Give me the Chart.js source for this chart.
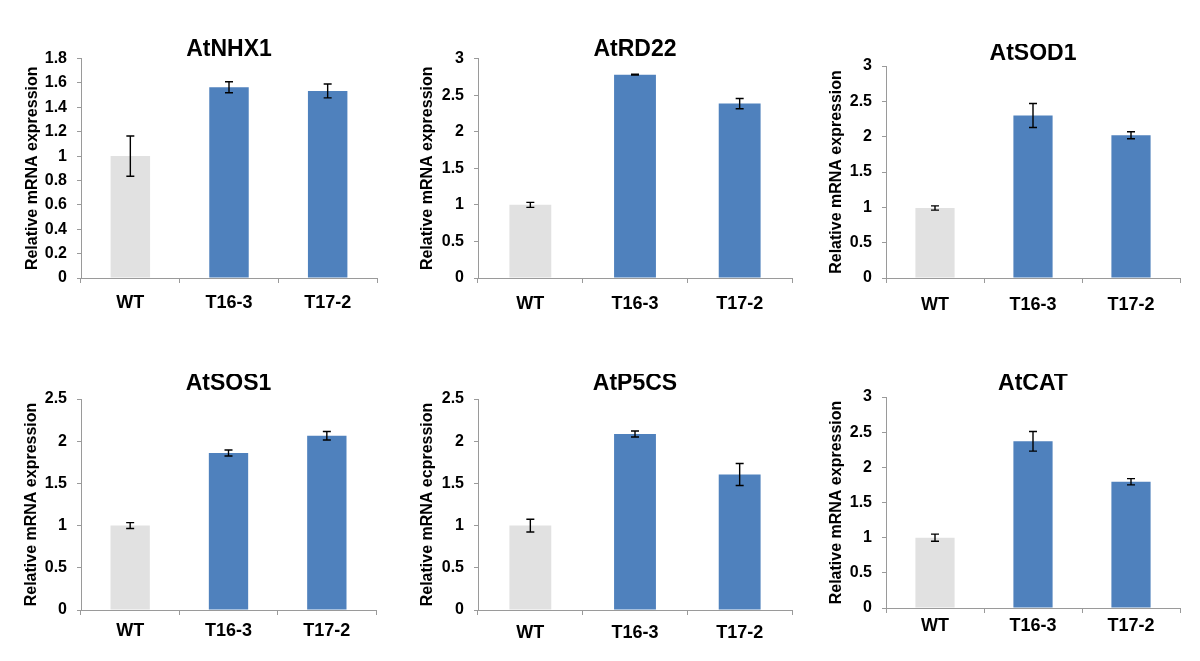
<!DOCTYPE html>
<html>
<head>
<meta charset="utf-8">
<script src="https://cdn.jsdelivr.net/npm/chart.js"></script>
<style>
  html, body { margin: 0; padding: 0; background: #ffffff; }
  body { width: 1200px; height: 661px; position: relative; overflow: hidden; }
  canvas { position: absolute; }
</style>
</head>
<body>
<script>
// ---- Data ----
const categories = ['WT', 'T16-3', 'T17-2'];
const genes = ['AtNHX1', 'AtRD22', 'AtSOD1', 'AtSOS1', 'AtP5CS', 'AtCAT'];
const yTitles = ['Relative mRNA expression', 'Relative mRNA expression', 'Relative mRNA expression',
                 'Relative mRNA expression', 'Relative mRNA ecpression', 'Relative mRNA expression'];

const nhx1 = [1.0, 1.565, 1.535];
const nhx1Err = [0.165, 0.045, 0.057];
const rd22 = [1.0, 2.78, 2.385];
const rd22Err = [0.034, 0.005, 0.07];
const sod1 = [0.99, 2.30, 2.02];
const sod1Err = [0.03, 0.17, 0.05];
const sos1 = [1.0, 1.86, 2.065];
const sos1Err = [0.035, 0.035, 0.05];
const p5cs = [1.0, 2.085, 1.605];
const p5csErr = [0.075, 0.035, 0.13];
const cat = [1.0, 2.37, 1.795];
const catErr = [0.05, 0.14, 0.045];

const yMax = [1.8, 3, 3, 2.5, 2.5, 3];
const yStep = [0.2, 0.5, 0.5, 0.5, 0.5, 0.5];

const values = [nhx1, rd22, sod1, sos1, p5cs, cat];
const errors = [nhx1Err, rd22Err, sod1Err, sos1Err, p5csErr, catErr];

// ---- Layout (pixel positions of each panel) ----
const layouts = [
  { cx: 0,   plot: [81, 377, 56, 278],   tc: 48,    yl: 33,  xl: 303 },
  { cx: 400, plot: [478, 792, 56, 278],  tc: 48,    yl: 428, xl: 304 },
  { cx: 800, plot: [886, 1180, 66, 278], tc: 53,    yl: 837, xl: 305 },
  { cx: 0,   plot: [81, 376, 399, 610],  tc: 383,   yl: 32,  xl: 631 },
  { cx: 400, plot: [478, 792, 399, 610], tc: 383,   yl: 428, xl: 633 },
  { cx: 800, plot: [886, 1180, 397, 608],tc: 383,   yl: 837, xl: 626 }
];

const FONT = "Arial, 'Liberation Sans', Helvetica, sans-serif";
const AXIS = '#9a9a9a';
const BLUE = '#4f81bd';
const GRAY = '#e1e1e1';

const errorBars = {
  id: 'errorBars',
  afterDatasetsDraw(chart) {
    const ctx = chart.ctx;
    const ys = chart.scales.y;
    const meta = chart.getDatasetMeta(0);
    const ds = chart.data.datasets[0];
    ctx.save();
    ctx.strokeStyle = '#000000';
    ctx.lineWidth = 1.4;
    meta.data.forEach((bar, i) => {
      const v = ds.data[i], e = ds.errors[i];
      const yt = ys.getPixelForValue(v + e);
      const yb = ys.getPixelForValue(v - e);
      const x = bar.x;
      ctx.beginPath();
      ctx.moveTo(x, yt); ctx.lineTo(x, yb);
      ctx.moveTo(x - 4, yt); ctx.lineTo(x + 4, yt);
      ctx.moveTo(x - 4, yb); ctx.lineTo(x + 4, yb);
      ctx.stroke();
    });
    ctx.restore();
  }
};

const TITLE_SIZE = 23, TITLE_LH = 0.8;
const XAXIS_H = 42;

layouts.forEach((L, k) => {
  const [pl, pr, pt, pb] = L.plot;
  const titleH = TITLE_SIZE * TITLE_LH;
  const top = Math.round(L.tc - titleH / 2);
  const width = Math.min(pr + 12 - L.cx, 1200 - L.cx);
  const height = pb + XAXIS_H - top;
  const canvas = document.createElement('canvas');
  canvas.width = width; canvas.height = height;
  canvas.style.left = L.cx + 'px';
  canvas.style.top = top + 'px';
  canvas.style.width = width + 'px';
  canvas.style.height = height + 'px';
  document.body.appendChild(canvas);

  const ylabelSize = 16, ylabelLH = 1.2;
  const xtSize = 18, xtLH = 1.2;

  new Chart(canvas, {
    type: 'bar',
    data: {
      labels: categories,
      datasets: [{
        data: values[k],
        errors: errors[k],
        backgroundColor: [GRAY, BLUE, BLUE],
        borderWidth: 0,
        barPercentage: 0.4,
        categoryPercentage: 1.0
      }]
    },
    options: {
      responsive: false,
      animation: false,
      devicePixelRatio: 1,
      layout: { padding: { left: 0, right: width - (pr - L.cx), top: 0, bottom: 0 } },
      plugins: {
        legend: { display: false },
        tooltip: { enabled: false },
        title: {
          display: true,
          text: genes[k],
          color: '#000000',
          fullSize: false,
          font: { family: FONT, size: TITLE_SIZE, weight: 'bold', lineHeight: TITLE_LH },
          padding: { top: 0, bottom: Math.max(0, pt - top - titleH) }
        }
      },
      scales: {
        x: {
          grid: { display: true, drawOnChartArea: false, drawTicks: true, tickLength: 5, color: AXIS, offset: true },
          border: { display: true, color: AXIS, width: 1 },
          ticks: {
            color: '#000000',
            padding: Math.max(0, L.xl - pb - 5 - xtSize * xtLH / 2),
            font: { family: FONT, size: xtSize, weight: 'bold', lineHeight: xtLH }
          },
          afterFit(s) { s.height = XAXIS_H; }
        },
        y: {
          min: 0,
          max: yMax[k],
          grid: { display: true, drawOnChartArea: false, drawTicks: true, tickLength: 4, color: AXIS },
          border: { display: true, color: AXIS, width: 1 },
          ticks: {
            stepSize: yStep[k],
            color: '#000000',
            padding: 10,
            font: { family: FONT, size: 16, weight: 'bold' },
            callback: (v) => String(Math.round(v * 100) / 100)
          },
          title: {
            display: true,
            text: yTitles[k],
            color: '#000000',
            font: { family: FONT, size: ylabelSize, weight: 'bold', lineHeight: ylabelLH },
            padding: { top: L.yl - L.cx - ylabelSize * ylabelLH / 2, bottom: 0 }
          },
          afterFit(s) { s.width = pl - L.cx; }
        }
      }
    },
    plugins: [errorBars]
  });
});
</script>
</body>
</html>
